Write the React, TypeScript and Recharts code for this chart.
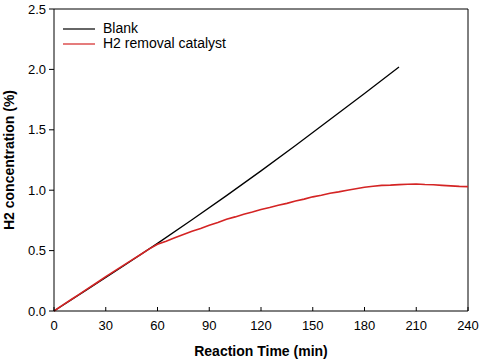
import React from "react";
import { LineChart, Line, XAxis, YAxis, ReferenceLine } from "recharts";

// Blank run (time in min, H2 %)
const blankTime = [0, 20, 40, 60, 80, 100, 120, 140, 160, 180, 200];
const blankValue = [0, 0.185, 0.37, 0.56, 0.755, 0.955, 1.16, 1.37, 1.585, 1.8, 2.02];

// H2 removal catalyst run, every 5 min
const catalystTime = [
  0, 5, 10, 15, 20, 25, 30, 35, 40, 45, 50, 55, 60, 65, 70, 75, 80, 85, 90, 95, 100,
  105, 110, 115, 120, 125, 130, 135, 140, 145, 150, 155, 160, 165, 170, 175, 180,
  185, 190, 195, 200, 205, 210, 215, 220, 225, 230, 235, 240,
];
const catalystValue = [
  0.0, 0.048, 0.095, 0.142, 0.19, 0.236, 0.284, 0.33, 0.376, 0.421, 0.466, 0.512,
  0.553, 0.578, 0.606, 0.633, 0.66, 0.683, 0.71, 0.733, 0.76, 0.779, 0.801, 0.819,
  0.84, 0.856, 0.876, 0.891, 0.91, 0.926, 0.945, 0.958, 0.975, 0.986, 1.0, 1.012,
  1.025, 1.033, 1.04, 1.042, 1.046, 1.049, 1.051, 1.047, 1.045, 1.04, 1.036, 1.032,
  1.03,
];

const xTicks = [0, 30, 60, 90, 120, 150, 180, 210, 240];
const yTicks = [0, 0.5, 1.0, 1.5, 2.0, 2.5];

const seriesNames = ["Blank", "H2 removal catalyst"];
const seriesColors = ["#000000", "#d42424"];

const blankData = blankTime.map((t, i) => ({ t, v: blankValue[i] }));
const catalystData = catalystTime.map((t, i) => ({ t, v: catalystValue[i] }));

const font = "'Liberation Sans', Arial, sans-serif";

function LegendBox() {
  return (
    <div
      style={{
        position: "absolute",
        left: 63,
        top: 21,
        fontFamily: font,
        fontSize: 14,
        color: "#000",
        lineHeight: "15px",
      }}
    >
      {seriesNames.map((name, i) => (
        <div key={name} style={{ display: "flex", alignItems: "center", height: 15 }}>
          <svg width={32} height={4} style={{ marginRight: 8 }}>
            <line x1={0} y1={2} x2={32} y2={2} stroke={seriesColors[i]} strokeWidth={1.2} />
          </svg>
          <span>{name}</span>
        </div>
      ))}
    </div>
  );
}

export default function App() {
  return (
    <div style={{ position: "absolute", left: 0, top: 0, width: 484, height: 364, background: "#fff" }}>
      <LineChart
        width={484}
        height={364}
        margin={{ top: 9, right: 16, left: 0, bottom: 23 }}
        style={{ fontFamily: font }}
      >
        <XAxis
          dataKey="t"
          type="number"
          domain={[0, 240]}
          ticks={xTicks}
          allowDuplicatedCategory={false}
          height={30}
          tickSize={-4}
          tickMargin={14}
          axisLine={{ stroke: "#000" }}
          tickLine={{ stroke: "#000" }}
          tick={{ fill: "#000", fontSize: 13 }}
          label={{
            value: "Reaction Time (min)",
            position: "bottom",
            offset: 5,
            style: { fontWeight: "bold", fontSize: 14, fill: "#000" },
          }}
        />
        <YAxis
          type="number"
          domain={[0, 2.5]}
          ticks={yTicks}
          width={54}
          tickSize={5}
          tickMargin={3}
          tickFormatter={(v: number) => v.toFixed(1)}
          axisLine={{ stroke: "#000" }}
          tickLine={{ stroke: "#000" }}
          tick={{ fill: "#000", fontSize: 13 }}
          label={{
            value: "H2 concentration (%)",
            angle: -90,
            position: "insideLeft",
            offset: 9,
            style: { textAnchor: "middle", fontWeight: "bold", fontSize: 14, fill: "#000" },
          }}
        />
        <ReferenceLine y={2.5} stroke="#000" />
        <ReferenceLine x={240} stroke="#000" />
        <Line
          data={blankData}
          dataKey="v"
          name={seriesNames[0]}
          stroke={seriesColors[0]}
          strokeWidth={1.3}
          dot={false}
          isAnimationActive={false}
        />
        <Line
          data={catalystData}
          dataKey="v"
          name={seriesNames[1]}
          stroke={seriesColors[1]}
          strokeWidth={1.6}
          dot={false}
          isAnimationActive={false}
        />
      </LineChart>
      <LegendBox />
    </div>
  );
}
